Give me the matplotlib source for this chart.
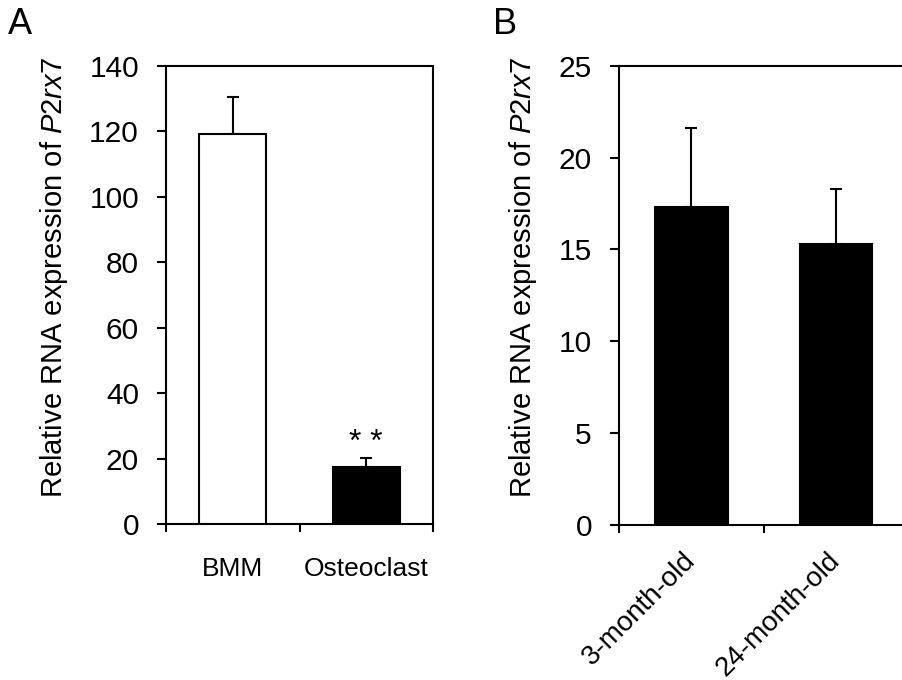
import matplotlib
matplotlib.use("Agg")
import matplotlib.pyplot as plt
import numpy as np

plt.rcParams['font.family'] = ['Liberation Sans', 'DejaVu Sans']
plt.rcParams['mathtext.fontset'] = 'custom'
plt.rcParams['mathtext.rm'] = 'Liberation Sans'
plt.rcParams['mathtext.it'] = 'Liberation Sans:italic'

# Panel A data
catA = ["BMM", "Osteoclast"]
meanA = [119.1, 17.3]
errA = [11.3, 3.0]
colorsA = ["white", "black"]

# Panel B data
catB = ["3-month-old", "24-month-old"]
meanB = [17.3, 15.3]
errB = [4.3, 3.0]
colorsB = ["black", "black"]

yticksA = [0, 20, 40, 60, 80, 100, 120, 140]
yticksB = [0, 5, 10, 15, 20, 25]

fig = plt.figure(figsize=(9.03, 6.80), dpi=100)
W, H = 903, 680

def ax_at(l, t, r, b):
    return fig.add_axes([l / W, 1 - b / H, (r - l) / W, (b - t) / H])

axA = ax_at(166, 66, 433, 524)
axB = ax_at(619, 65.7, 908.4, 524.7)

ylabel = "Relative RNA expression of $\\it{P2rx7}$"

def style(ax, cats, means, errs, colors, yticks, ylim, rot):
    x = np.arange(len(cats))
    ax.bar(x, means, width=0.5, color=colors, edgecolor="black", linewidth=1.5, zorder=2)
    ax.errorbar(x, means, yerr=[np.zeros(len(errs)), errs], fmt="none", ecolor="black",
                elinewidth=1.5, capsize=4.5, capthick=1.5, zorder=1)
    ax.set_xlim(-0.5, len(cats) - 0.5)
    ax.set_ylim(*ylim)
    ax.set_yticks(yticks)
    for s in ax.spines.values():
        s.set_linewidth(1.5)
    ax.tick_params(axis="y", direction="out", length=6.5, width=1.5, labelsize=21.5, pad=13)
    ax.set_xticks(x)
    ax.set_xticks(np.arange(len(cats) + 1) - 0.5, minor=True)
    ax.tick_params(axis="x", which="minor", direction="out", length=6, width=1.5)
    if rot:
        ax.tick_params(axis="x", which="major", length=0, labelsize=20, pad=23)
        ax.set_xticklabels(cats, rotation=45, ha="right", va="center", rotation_mode="anchor")
    else:
        ax.tick_params(axis="x", which="major", length=0, labelsize=19, pad=24)
        ax.set_xticklabels(cats)
    ax.set_ylabel(ylabel, fontsize=21)

style(axA, catA, meanA, errA, colorsA, yticksA, (0, 140), False)
style(axB, catB, meanB, errB, colorsB, yticksB, (0, 25), True)
axA.yaxis.set_label_coords(-(166 - 70) / (433 - 166), 0.539)
axB.yaxis.set_label_coords(-(619 - 539) / (908.4 - 619), 0.539)

axA.text(1, meanA[1] + errA[1] + 4.5, "* *", ha="center", va="center", fontsize=23)

fig.text(8 / W, 1 - 25 / H, "A", fontsize=26, va="center", ha="left")
fig.text(493 / W, 1 - 25 / H, "B", fontsize=26, va="center", ha="left")

fig.savefig("out.png", dpi=100)
